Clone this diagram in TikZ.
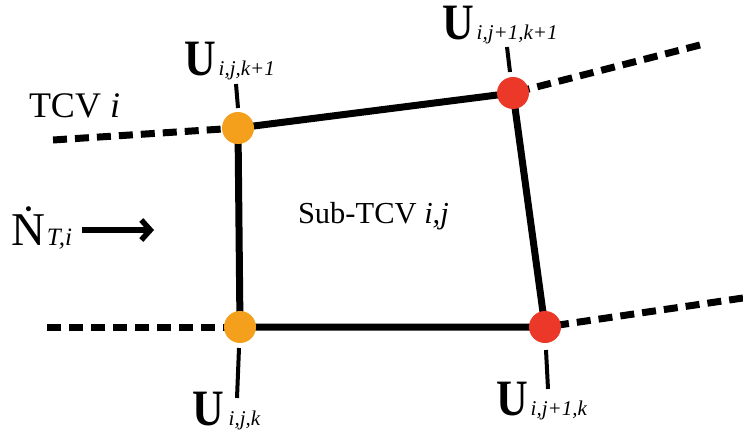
\documentclass[tikz,border=0pt]{standalone}
\usepackage{graphicx}
\usepackage{fontspec}
\setmainfont{Liberation Serif}
\usetikzlibrary{arrows.meta}
\definecolor{dotorange}{RGB}{245,160,28}
\definecolor{dotred}{RGB}{235,56,40}
\newcommand{\BigU}{\scalebox{0.86}[1]{\fontsize{51}{51}\selectfont\bfseries U}}
\newcommand{\Sub}[1]{{\fontsize{21}{21}\selectfont\itshape #1}}
\begin{document}
\begin{tikzpicture}[x=1pt,y=-1pt,
  edge/.style={line width=7pt},
  dashedge/.style={line width=7pt,dash pattern=on 14pt off 8pt},
  tick/.style={line width=4pt},
  orangedot/.style={circle,fill=dotorange,minimum size=32pt,inner sep=0pt},
  reddot/.style={circle,fill=dotred,minimum size=32pt,inner sep=0pt},
  lbl/.style={anchor=base west,inner sep=0pt,outer sep=0pt}]
\useasboundingbox (0,0) rectangle (743,436);
% node positions
\coordinate (A) at (238,128);
\coordinate (B) at (513,93);
\coordinate (C) at (240,327);
\coordinate (D) at (545,327);
% free ends of dashed lines
\coordinate (Ae) at (53,140);
\coordinate (Be) at (700,45);
\coordinate (Ce) at (47,327);
\coordinate (De) at (743,298);
% ticks
\coordinate (tA1) at (236,84); \coordinate (tA2) at (238,108);
\coordinate (tB1) at (507,47); \coordinate (tB2) at (510,72);
\coordinate (tC1) at (239,348); \coordinate (tC2) at (237,398);
\coordinate (tD1) at (546,350); \coordinate (tD2) at (548,389);
% dashed
\draw[dashedge] (Ae) -- (A);
\draw[dashedge] (Be) -- (B);
\draw[dashedge] (Ce) -- (C);
\draw[dashedge] (De) -- (D);
% solid
\draw[edge] (A) -- (B) -- (D) -- (C) -- cycle;
% ticks
\draw[tick] (tA1) -- (tA2);
\draw[tick] (tB1) -- (tB2);
\draw[tick] (tC1) -- (tC2);
\draw[tick] (tD1) -- (tD2);
% dots
\node[orangedot] (nA) at (A) {};
\node[reddot] (nB) at (B) {};
\node[orangedot] (nC) at (C) {};
\node[reddot] (nD) at (D) {};
% labels
\node[lbl] (lA) at (184,75) {\BigU\hspace{3pt}\Sub{i,j,k+1}};
\node[lbl] (lB) at (442,40) {\BigU\hspace{3pt}\Sub{i,j+1,k+1}};
\node[lbl] (lC) at (192,425) {\BigU\hspace{5pt}\Sub{i,j,k}};
\node[lbl] (lD) at (496,415) {\BigU\hspace{3pt}\Sub{i,j+1,k}};
\node[lbl] (tcv) at (29,117) {\fontsize{36}{36}\selectfont TCV \textit{i}};
\node[lbl] (sub) at (298,223) {\fontsize{30.5}{30.5}\selectfont Sub-TCV \textit{i,j}};
\node[lbl] (N) at (12,245) {\fontsize{47}{47}\selectfont\.{N}\hspace{1pt}{\fontsize{25}{25}\selectfont\itshape T,i}};
% arrow
\coordinate (ar1) at (82,230);
\coordinate (ar2) at (154,230);
\draw[line width=6pt,-{Straight Barb[length=9pt,width=20pt,line width=5.5pt]}] (ar1) -- (ar2);
\end{tikzpicture}
\end{document}
